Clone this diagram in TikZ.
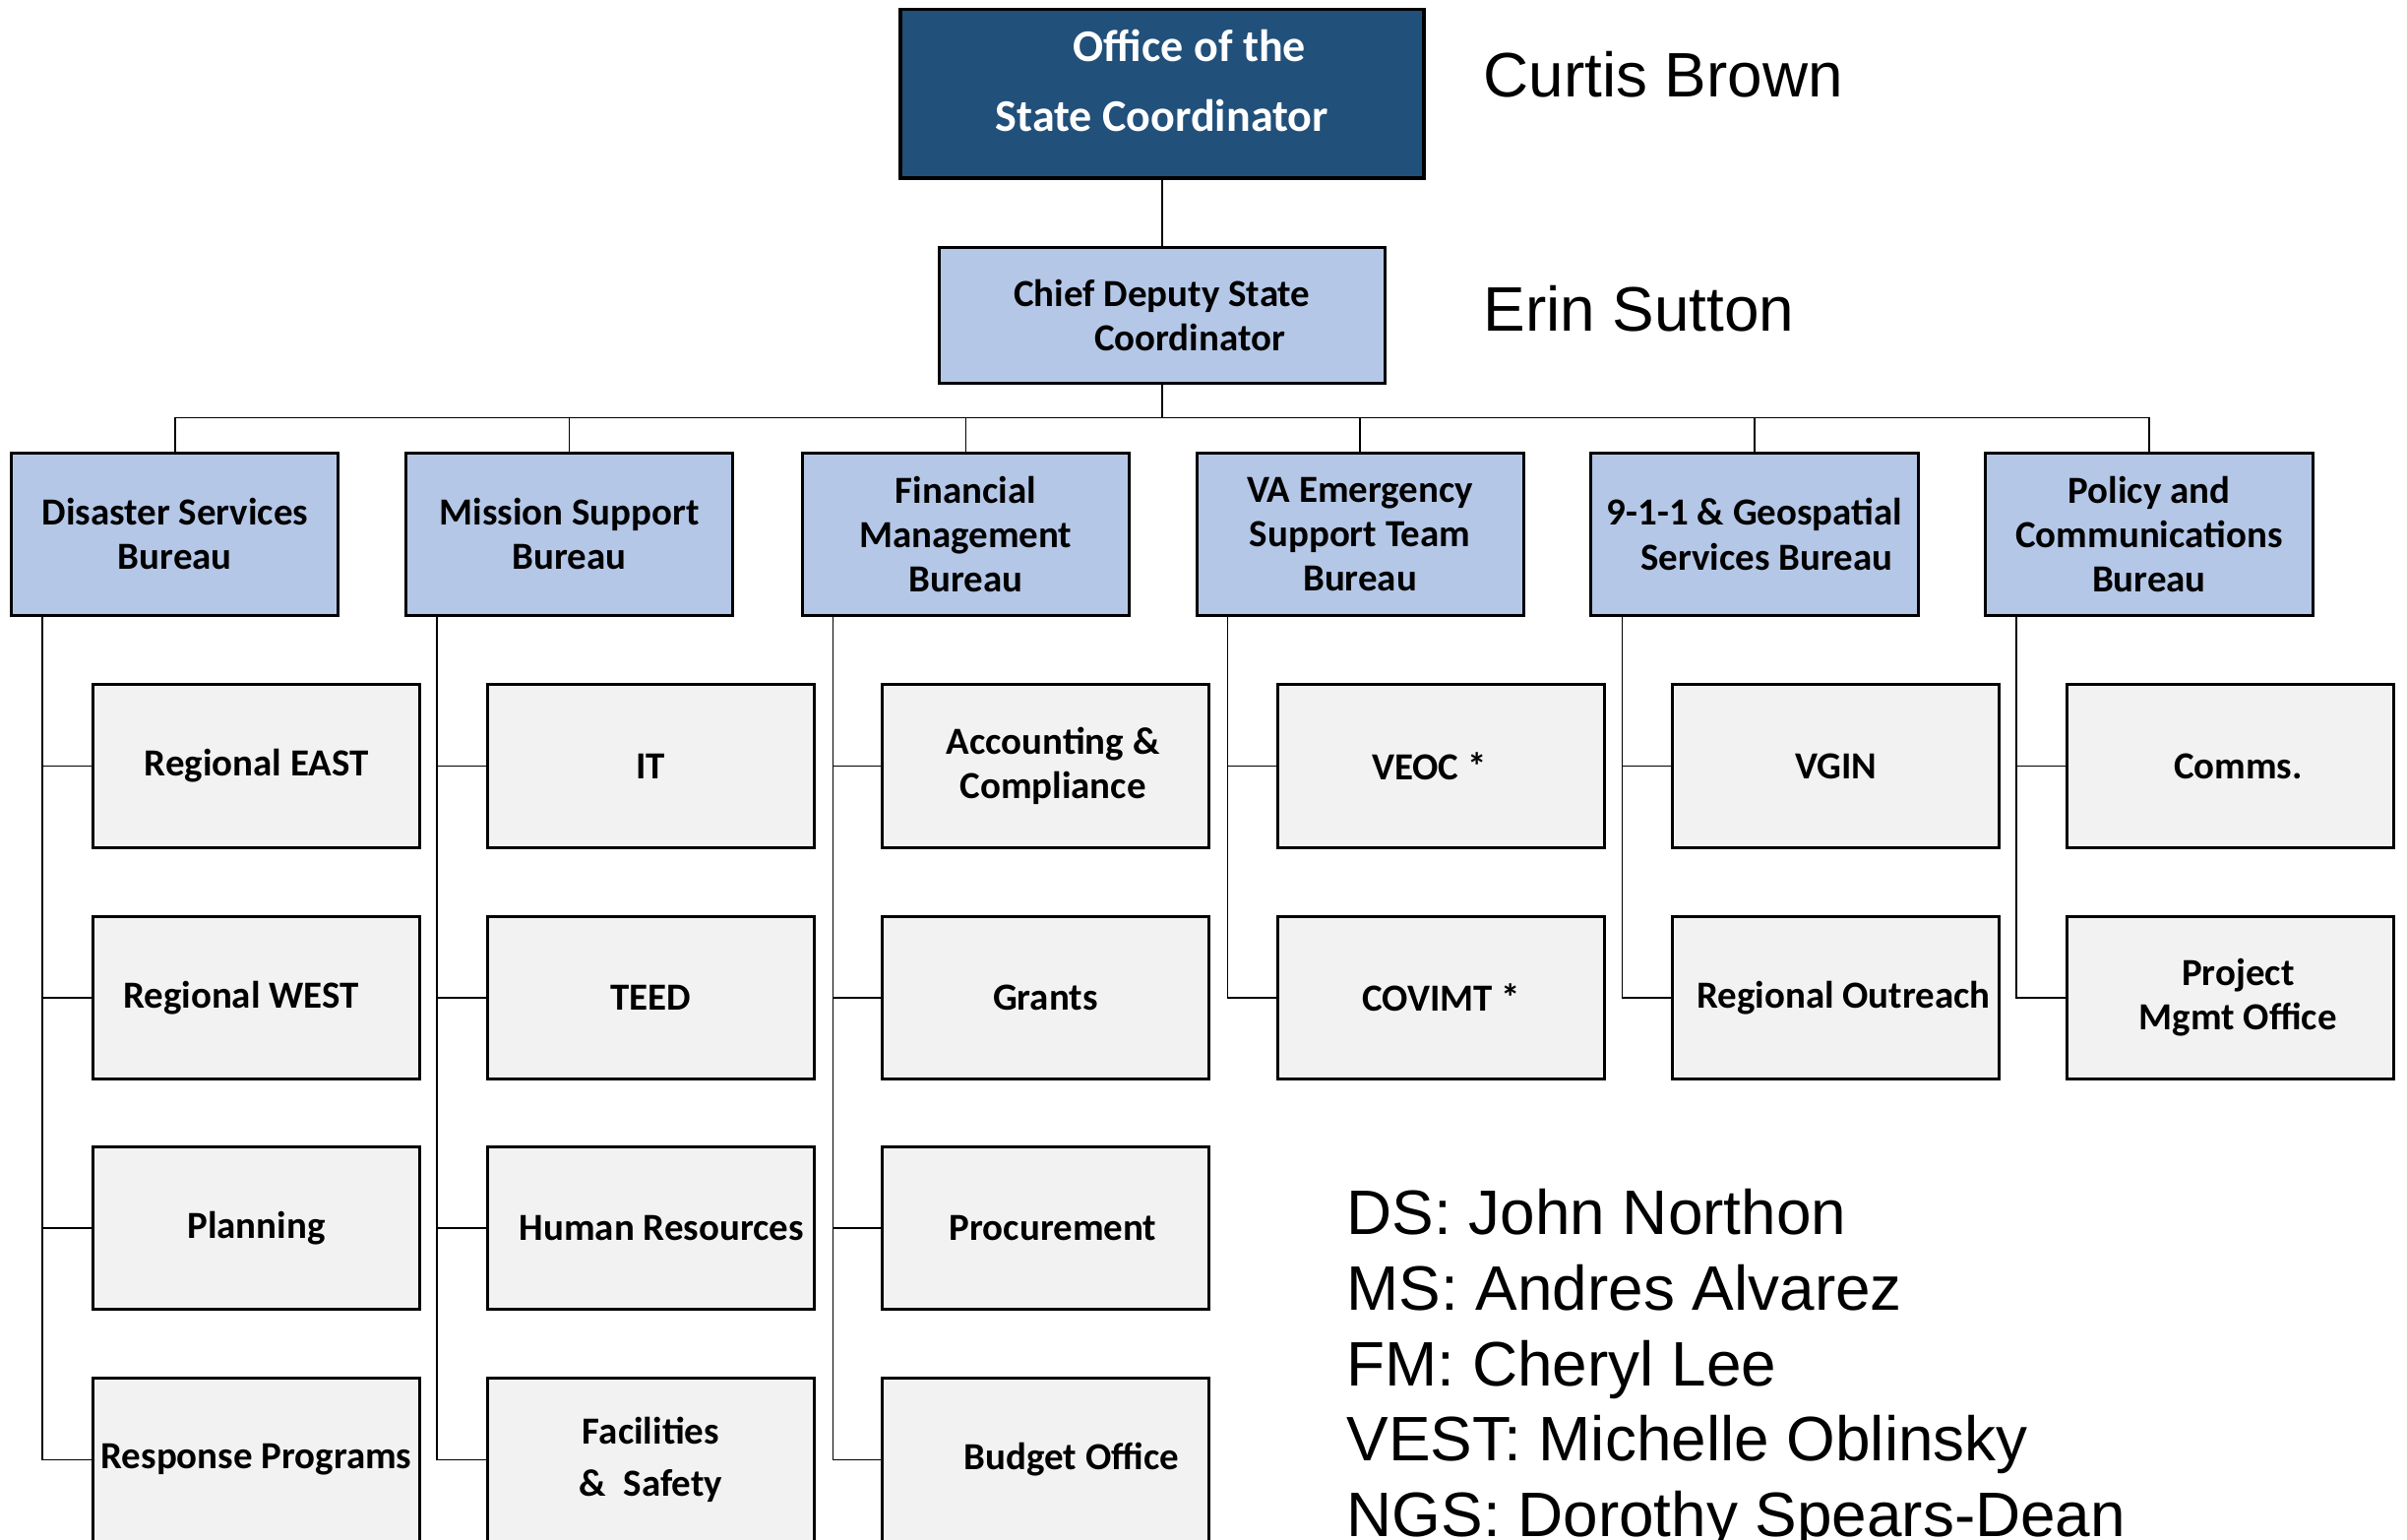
\documentclass[tikz,border=0pt]{standalone}
\usepackage{fontspec}
\setmainfont{Carlito}
\newfontfamily\namefont{Liberation Sans}
\definecolor{chiefnavy}{HTML}{21507A}
\definecolor{bureaublue}{HTML}{B4C7E7}
\definecolor{unitgray}{HTML}{F2F2F2}
\tikzset{
  topbox/.style={draw=black, line width=1.3pt, fill=chiefnavy, text=white, align=center,
    font=\fontsize{16.8}{26.1}\selectfont\bfseries, minimum width=6.82cm, minimum height=2.2cm, inner sep=1pt},
  bureau/.style={draw=black, line width=1.1pt, fill=bureaublue, align=center,
    font=\fontsize{14.2}{16.5}\selectfont\bfseries, minimum width=4.26cm, minimum height=2.12cm, inner sep=1pt},
  unitbox/.style={draw=black, line width=1.1pt, fill=unitgray, align=center,
    font=\fontsize{14.2}{16.5}\selectfont\bfseries, minimum width=4.26cm, minimum height=2.12cm, inner sep=1pt},
  link/.style={black, line width=0.5pt},
  person/.style={anchor=base west, inner sep=0pt, font=\namefont\fontsize{23.3}{28}\selectfont}
}

\begin{document}
\begin{tikzpicture}[x=0.02cm, y=-0.02cm]
\useasboundingbox (0,0) rectangle (1568,1003);
\clip (0,0) rectangle (1568,1003);

\node[topbox, text depth=0.34cm] (office) at (757,61) {\hspace*{0.72cm}Office of the\\State Coordinator};
\node[bureau, minimum width=5.8cm, minimum height=1.78cm] (chief) at (757,205.5) {Chief Deputy State\\\hspace*{0.72cm}Coordinator};
\node[person] (curtis) at (966,63) {Curtis Brown};
\node[person] (erin) at (966,216) {Erin Sutton};

\node[bureau] (ds) at (114,348) {Disaster Services\\Bureau};
\node[bureau] (ms) at (371,348) {Mission Support\\Bureau};
\node[bureau] (fm) at (629,348) {Financial\\Management\\Bureau};
\node[bureau] (vest) at (886,348) {VA Emergency\\Support Team\\Bureau};
\node[bureau] (ngs) at (1143,348) {9-1-1 \& Geospatial\\\hspace*{0.32cm}Services Bureau};
\node[bureau] (pc) at (1400,348) {Policy and\\Communications\\Bureau};

\node[unitbox] (reast) at (167,499) {Regional EAST};
\node[unitbox] (rwest) at (167,650) {Regional WEST\hspace*{0.4cm}};
\node[unitbox] (plan) at (167,800) {Planning};
\node[unitbox] (resp) at (167,951) {Response Programs};

\node[unitbox] (it) at (424,499) {IT};
\node[unitbox] (teed) at (424,650) {TEED};
\node[unitbox] (hr) at (424,800) {\hspace*{0.28cm}Human Resources};
\node[unitbox] (fac) at (424,951) {Facilities\\[0.1cm]\& \ Safety};

\node[unitbox] (acct) at (681,499) {\hspace*{0.2cm}Accounting \&\\\hspace*{0.2cm}Compliance};
\node[unitbox] (grants) at (681,650) {Grants};
\node[unitbox] (proc) at (681,800) {\hspace*{0.2cm}Procurement};
\node[unitbox] (budget) at (681,951) {\hspace*{0.68cm}Budget Office};

\node[unitbox] (veoc) at (939,499) {VEOC *\hspace*{0.32cm}};
\node[unitbox] (covimt) at (939,650) {COVIMT *};

\node[unitbox] (vgin) at (1196,499) {VGIN};
\node[unitbox] (outreach) at (1196,650) {\hspace*{0.2cm}Regional Outreach};

\node[unitbox] (comms) at (1453,499) {\hspace*{0.2cm}Comms.};
\node[unitbox] (pmo) at (1453,650) {\hspace*{0.2cm}Project\\\hspace*{0.2cm}Mgmt Office};

\node[person] (dsname) at (877,804) {DS: John Northon};
\node[person] (msname) at (877,853.3) {MS: Andres Alvarez};
\node[person] (fmname) at (877,902.6) {FM: Cheryl Lee};
\node[person] (vestname) at (877,951.9) {VEST: Michelle Oblinsky};
\node[person] (ngsname) at (877,1001.2) {NGS: Dorothy Spears-Dean};

\coordinate (bus) at (757,272);
\draw[link] (office.south) -- (chief.north);
\draw[link] (chief.south) -- (bus);
\draw[link] (ds.north) |- (bus);
\draw[link] (ms.north) |- (bus);
\draw[link] (fm.north) |- (bus);
\draw[link] (vest.north) |- (bus);
\draw[link] (ngs.north) |- (bus);
\draw[link] (pc.north) |- (bus);

\draw[link] (ds.south west) ++(21,0) |- (reast.west);
\draw[link] (ds.south west) ++(21,0) |- (rwest.west);
\draw[link] (ds.south west) ++(21,0) |- (plan.west);
\draw[link] (ds.south west) ++(21,0) |- (resp.west);
\draw[link] (ms.south west) ++(21,0) |- (it.west);
\draw[link] (ms.south west) ++(21,0) |- (teed.west);
\draw[link] (ms.south west) ++(21,0) |- (hr.west);
\draw[link] (ms.south west) ++(21,0) |- (fac.west);
\draw[link] (fm.south west) ++(21,0) |- (acct.west);
\draw[link] (fm.south west) ++(21,0) |- (grants.west);
\draw[link] (fm.south west) ++(21,0) |- (proc.west);
\draw[link] (fm.south west) ++(21,0) |- (budget.west);
\draw[link] (vest.south west) ++(21,0) |- (veoc.west);
\draw[link] (vest.south west) ++(21,0) |- (covimt.west);
\draw[link] (ngs.south west) ++(21,0) |- (vgin.west);
\draw[link] (ngs.south west) ++(21,0) |- (outreach.west);
\draw[link] (pc.south west) ++(21,0) |- (comms.west);
\draw[link] (pc.south west) ++(21,0) |- (pmo.west);
\end{tikzpicture}
\end{document}
